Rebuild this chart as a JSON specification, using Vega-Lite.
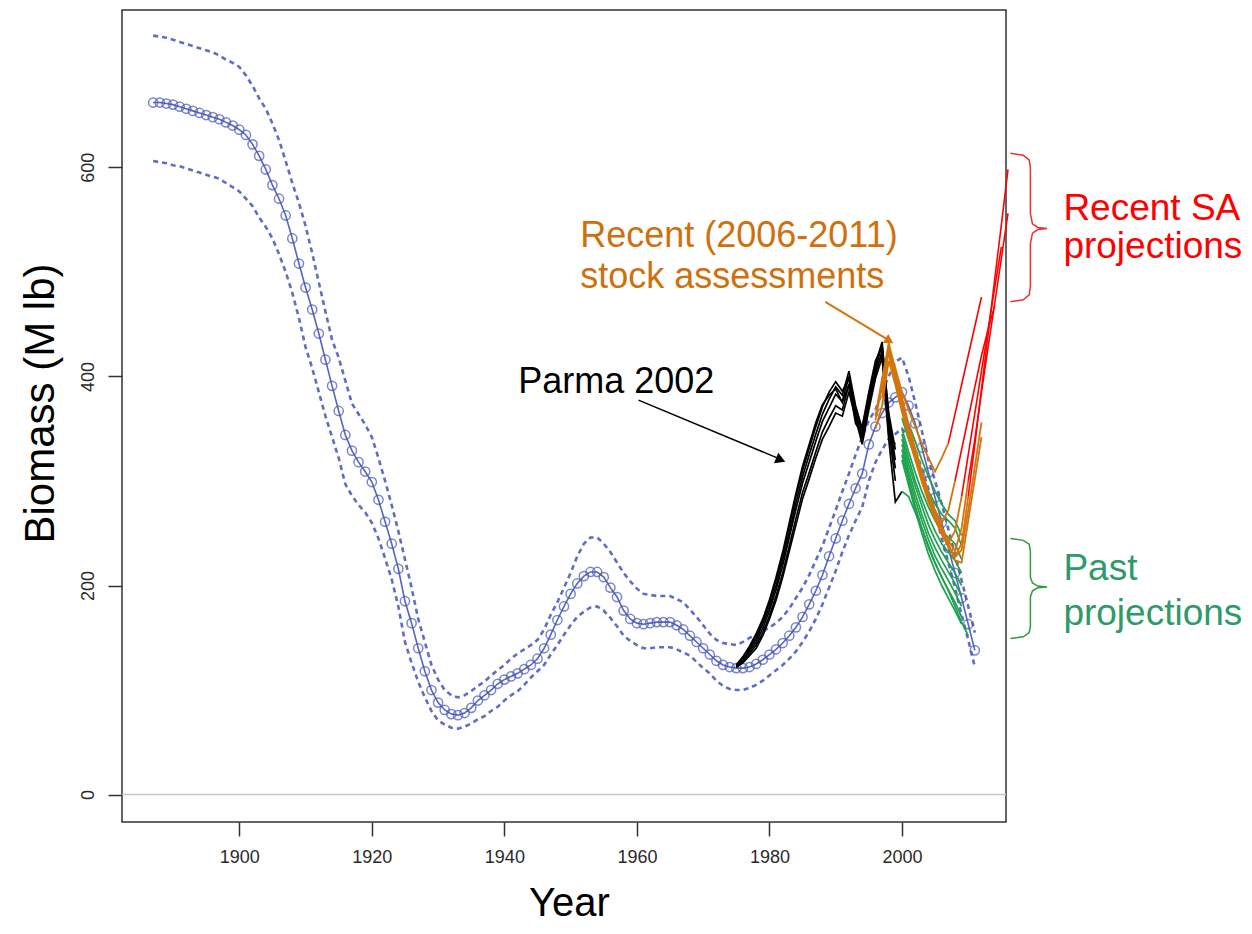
{
"$schema": "https://vega.github.io/schema/vega-lite/v6.json",
"width": 884, "height": 812,
"autosize": {"type": "none"},
"padding": {"left": 122, "top": 10, "right": 246, "bottom": 112},
"background": "white",
"config": {
 "view": {"stroke": "#333333", "strokeWidth": 1.5},
 "axis": {"grid": false, "domain": false, "tickColor": "#333333", "tickWidth": 1.5, "tickSize": 14, "labelFont": "Liberation Sans", "labelFontSize": 18, "labelColor": "#2a2a2a", "titleFont": "Liberation Sans", "titleFontWeight": "normal", "titleColor": "#000000", "labelOverlap": false},
 "axisX": {"labelPadding": 12, "titleFontSize": 40, "titlePadding": 17, "labelFlush": false},
 "axisY": {"labelAngle": -90, "labelPadding": 11, "titleFontSize": 42, "titlePadding": 17}
},
"datasets": {
 "blue": [
{"year":1887,"mid":662,"hi":726,"lo":606},{"year":1888,"mid":662,"hi":725,"lo":605},{"year":1889,"mid":661,"hi":724,"lo":604},{"year":1890,"mid":660,"hi":722,"lo":602},{"year":1891,"mid":658,"hi":720,"lo":601},{"year":1892,"mid":656,"hi":718,"lo":599},{"year":1893,"mid":654,"hi":716,"lo":597},{"year":1894,"mid":652,"hi":714,"lo":595},{"year":1895,"mid":650,"hi":712,"lo":593},{"year":1896,"mid":648,"hi":710,"lo":591},{"year":1897,"mid":646,"hi":707,"lo":589},{"year":1898,"mid":643,"hi":703,"lo":585},{"year":1899,"mid":640,"hi":700,"lo":581},{"year":1900,"mid":636,"hi":696,"lo":577},{"year":1901,"mid":631,"hi":688,"lo":570},{"year":1902,"mid":622,"hi":678,"lo":563},{"year":1903,"mid":611,"hi":666,"lo":552},{"year":1904,"mid":598,"hi":656,"lo":543},{"year":1905,"mid":583,"hi":642,"lo":532},{"year":1906,"mid":570,"hi":626,"lo":517},{"year":1907,"mid":554,"hi":606,"lo":500},{"year":1908,"mid":532,"hi":585,"lo":480},{"year":1909,"mid":508,"hi":566,"lo":456},{"year":1910,"mid":485,"hi":544,"lo":428},{"year":1911,"mid":464,"hi":518,"lo":408},{"year":1912,"mid":441,"hi":490,"lo":385},{"year":1913,"mid":416,"hi":462,"lo":362},{"year":1914,"mid":391,"hi":435,"lo":342},{"year":1915,"mid":367,"hi":418,"lo":322},{"year":1916,"mid":344,"hi":396,"lo":297},{"year":1917,"mid":329,"hi":374,"lo":286},{"year":1918,"mid":318,"hi":364,"lo":277},{"year":1919,"mid":309,"hi":354,"lo":270},{"year":1920,"mid":299,"hi":342,"lo":260},{"year":1921,"mid":282,"hi":322,"lo":245},{"year":1922,"mid":261,"hi":300,"lo":226},{"year":1923,"mid":240,"hi":277,"lo":206},{"year":1924,"mid":216,"hi":252,"lo":180},{"year":1925,"mid":185,"hi":225,"lo":146},{"year":1926,"mid":164,"hi":198,"lo":126},{"year":1927,"mid":140,"hi":168,"lo":108},{"year":1928,"mid":118,"hi":146,"lo":93},{"year":1929,"mid":100,"hi":124,"lo":80},{"year":1930,"mid":88,"hi":110,"lo":71},{"year":1931,"mid":81,"hi":100,"lo":67},{"year":1932,"mid":77,"hi":95,"lo":64},{"year":1933,"mid":76,"hi":93,"lo":63},{"year":1934,"mid":78,"hi":95,"lo":65},{"year":1935,"mid":83,"hi":99,"lo":68},{"year":1936,"mid":90,"hi":104,"lo":72},{"year":1937,"mid":95,"hi":108,"lo":75},{"year":1938,"mid":100,"hi":114,"lo":80},{"year":1939,"mid":106,"hi":119,"lo":84},{"year":1940,"mid":110,"hi":124,"lo":90},{"year":1941,"mid":113,"hi":130,"lo":95},{"year":1942,"mid":116,"hi":135,"lo":99},{"year":1943,"mid":120,"hi":139,"lo":105},{"year":1944,"mid":124,"hi":143,"lo":112},{"year":1945,"mid":130,"hi":148,"lo":118},{"year":1946,"mid":140,"hi":158,"lo":124},{"year":1947,"mid":153,"hi":172,"lo":134},{"year":1948,"mid":167,"hi":184,"lo":143},{"year":1949,"mid":180,"hi":198,"lo":153},{"year":1950,"mid":192,"hi":212,"lo":162},{"year":1951,"mid":202,"hi":228,"lo":170},{"year":1952,"mid":209,"hi":240,"lo":175},{"year":1953,"mid":213,"hi":246,"lo":179},{"year":1954,"mid":213,"hi":246,"lo":180},{"year":1955,"mid":208,"hi":240,"lo":176},{"year":1956,"mid":198,"hi":232,"lo":169},{"year":1957,"mid":189,"hi":222,"lo":161},{"year":1958,"mid":176,"hi":212,"lo":152},{"year":1959,"mid":168,"hi":204,"lo":147},{"year":1960,"mid":164,"hi":197,"lo":143},{"year":1961,"mid":163,"hi":192,"lo":140},{"year":1962,"mid":164,"hi":191,"lo":140},{"year":1963,"mid":165,"hi":190,"lo":141},{"year":1964,"mid":165,"hi":190,"lo":141},{"year":1965,"mid":165,"hi":190,"lo":141},{"year":1966,"mid":162,"hi":187,"lo":139},{"year":1967,"mid":158,"hi":184,"lo":136},{"year":1968,"mid":152,"hi":177,"lo":133},{"year":1969,"mid":146,"hi":170,"lo":127},{"year":1970,"mid":140,"hi":162,"lo":121},{"year":1971,"mid":134,"hi":154,"lo":116},{"year":1972,"mid":128,"hi":148,"lo":109},{"year":1973,"mid":124,"hi":145,"lo":104},{"year":1974,"mid":122,"hi":144,"lo":101},{"year":1975,"mid":121,"hi":143,"lo":100},{"year":1976,"mid":121,"hi":146,"lo":100},{"year":1977,"mid":122,"hi":150,"lo":102},{"year":1978,"mid":125,"hi":153,"lo":105},{"year":1979,"mid":129,"hi":156,"lo":109},{"year":1980,"mid":134,"hi":160,"lo":114},{"year":1981,"mid":139,"hi":164,"lo":119},{"year":1982,"mid":145,"hi":170,"lo":124},{"year":1983,"mid":152,"hi":178,"lo":130},{"year":1984,"mid":160,"hi":188,"lo":137},{"year":1985,"mid":170,"hi":198,"lo":146},{"year":1986,"mid":182,"hi":210,"lo":156},{"year":1987,"mid":195,"hi":224,"lo":168},{"year":1988,"mid":210,"hi":238,"lo":182},{"year":1989,"mid":228,"hi":255,"lo":198},{"year":1990,"mid":245,"hi":272,"lo":214},{"year":1991,"mid":262,"hi":290,"lo":232},{"year":1992,"mid":278,"hi":307,"lo":248},{"year":1993,"mid":293,"hi":325,"lo":262},{"year":1994,"mid":307,"hi":342,"lo":275},{"year":1995,"mid":335,"hi":358,"lo":300},{"year":1996,"mid":352,"hi":368,"lo":318},{"year":1997,"mid":365,"hi":385,"lo":330},{"year":1998,"mid":375,"hi":400,"lo":340},{"year":1999,"mid":380,"hi":414,"lo":345},{"year":2000,"mid":385,"hi":418,"lo":350},{"year":2001,"mid":372,"hi":400,"lo":342},{"year":2002,"mid":355,"hi":375,"lo":330},{"year":2003,"mid":332,"hi":348,"lo":312},{"year":2004,"mid":308,"hi":320,"lo":292},{"year":2005,"mid":284,"hi":300,"lo":270},{"year":2006,"mid":260,"hi":278,"lo":245},{"year":2007,"mid":236,"hi":254,"lo":222},{"year":2008,"mid":212,"hi":230,"lo":198},{"year":2009,"mid":188,"hi":205,"lo":172},{"year":2010,"mid":163,"hi":180,"lo":148},{"year":2011,"mid":138,"hi":155,"lo":122}
 ],
 "runs": [
{"run":"B1","grp":"parma","year":1975,"value":122},{"run":"B1","grp":"parma","year":1976,"value":126},{"run":"B1","grp":"parma","year":1977,"value":133},{"run":"B1","grp":"parma","year":1978,"value":140},{"run":"B1","grp":"parma","year":1979,"value":152},{"run":"B1","grp":"parma","year":1980,"value":168},{"run":"B1","grp":"parma","year":1981,"value":186},{"run":"B1","grp":"parma","year":1982,"value":208},{"run":"B1","grp":"parma","year":1983,"value":233},{"run":"B1","grp":"parma","year":1984,"value":258},{"run":"B1","grp":"parma","year":1985,"value":283},{"run":"B1","grp":"parma","year":1986,"value":302},{"run":"B1","grp":"parma","year":1987,"value":322},{"run":"B1","grp":"parma","year":1988,"value":340},{"run":"B1","grp":"parma","year":1989,"value":352},{"run":"B1","grp":"parma","year":1990,"value":365},{"run":"B1","grp":"parma","year":1991,"value":362},{"run":"B1","grp":"parma","year":1992,"value":385},{"run":"B1","grp":"parma","year":1993,"value":360},{"run":"B1","grp":"parma","year":1994,"value":335},{"run":"B1","grp":"parma","year":1995,"value":368},{"run":"B1","grp":"parma","year":1996,"value":398},{"run":"B1","grp":"parma","year":1997,"value":418},{"run":"B1","grp":"parma","year":1998,"value":340},{"run":"B1","grp":"parma","year":1999,"value":280},{"run":"B1","grp":"parma","year":2000,"value":290},
{"run":"B2","grp":"parma","year":1975,"value":122},{"run":"B2","grp":"parma","year":1976,"value":127},{"run":"B2","grp":"parma","year":1977,"value":135},{"run":"B2","grp":"parma","year":1978,"value":143},{"run":"B2","grp":"parma","year":1979,"value":155},{"run":"B2","grp":"parma","year":1980,"value":171},{"run":"B2","grp":"parma","year":1981,"value":190},{"run":"B2","grp":"parma","year":1982,"value":212},{"run":"B2","grp":"parma","year":1983,"value":238},{"run":"B2","grp":"parma","year":1984,"value":264},{"run":"B2","grp":"parma","year":1985,"value":289},{"run":"B2","grp":"parma","year":1986,"value":308},{"run":"B2","grp":"parma","year":1987,"value":328},{"run":"B2","grp":"parma","year":1988,"value":347},{"run":"B2","grp":"parma","year":1989,"value":360},{"run":"B2","grp":"parma","year":1990,"value":372},{"run":"B2","grp":"parma","year":1991,"value":368},{"run":"B2","grp":"parma","year":1992,"value":392},{"run":"B2","grp":"parma","year":1993,"value":364},{"run":"B2","grp":"parma","year":1994,"value":340},{"run":"B2","grp":"parma","year":1995,"value":372},{"run":"B2","grp":"parma","year":1996,"value":402},{"run":"B2","grp":"parma","year":1997,"value":424},{"run":"B2","grp":"parma","year":1998,"value":350},{"run":"B2","grp":"parma","year":1999,"value":300},
{"run":"B3","grp":"parma","year":1975,"value":122},{"run":"B3","grp":"parma","year":1976,"value":128},{"run":"B3","grp":"parma","year":1977,"value":137},{"run":"B3","grp":"parma","year":1978,"value":146},{"run":"B3","grp":"parma","year":1979,"value":159},{"run":"B3","grp":"parma","year":1980,"value":176},{"run":"B3","grp":"parma","year":1981,"value":196},{"run":"B3","grp":"parma","year":1982,"value":219},{"run":"B3","grp":"parma","year":1983,"value":246},{"run":"B3","grp":"parma","year":1984,"value":273},{"run":"B3","grp":"parma","year":1985,"value":298},{"run":"B3","grp":"parma","year":1986,"value":318},{"run":"B3","grp":"parma","year":1987,"value":338},{"run":"B3","grp":"parma","year":1988,"value":357},{"run":"B3","grp":"parma","year":1989,"value":370},{"run":"B3","grp":"parma","year":1990,"value":383},{"run":"B3","grp":"parma","year":1991,"value":376},{"run":"B3","grp":"parma","year":1992,"value":400},{"run":"B3","grp":"parma","year":1993,"value":368},{"run":"B3","grp":"parma","year":1994,"value":346},{"run":"B3","grp":"parma","year":1995,"value":378},{"run":"B3","grp":"parma","year":1996,"value":408},{"run":"B3","grp":"parma","year":1997,"value":430},{"run":"B3","grp":"parma","year":1998,"value":356},{"run":"B3","grp":"parma","year":1999,"value":312},
{"run":"B4","grp":"parma","year":1975,"value":123},{"run":"B4","grp":"parma","year":1976,"value":129},{"run":"B4","grp":"parma","year":1977,"value":139},{"run":"B4","grp":"parma","year":1978,"value":149},{"run":"B4","grp":"parma","year":1979,"value":163},{"run":"B4","grp":"parma","year":1980,"value":180},{"run":"B4","grp":"parma","year":1981,"value":200},{"run":"B4","grp":"parma","year":1982,"value":224},{"run":"B4","grp":"parma","year":1983,"value":251},{"run":"B4","grp":"parma","year":1984,"value":279},{"run":"B4","grp":"parma","year":1985,"value":304},{"run":"B4","grp":"parma","year":1986,"value":325},{"run":"B4","grp":"parma","year":1987,"value":345},{"run":"B4","grp":"parma","year":1988,"value":364},{"run":"B4","grp":"parma","year":1989,"value":378},{"run":"B4","grp":"parma","year":1990,"value":390},{"run":"B4","grp":"parma","year":1991,"value":382},{"run":"B4","grp":"parma","year":1992,"value":405},{"run":"B4","grp":"parma","year":1993,"value":372},{"run":"B4","grp":"parma","year":1994,"value":350},{"run":"B4","grp":"parma","year":1995,"value":382},{"run":"B4","grp":"parma","year":1996,"value":412},{"run":"B4","grp":"parma","year":1997,"value":433},{"run":"B4","grp":"parma","year":1998,"value":362},{"run":"B4","grp":"parma","year":1999,"value":320},
{"run":"B5","grp":"parma","year":1975,"value":124},{"run":"B5","grp":"parma","year":1976,"value":131},{"run":"B5","grp":"parma","year":1977,"value":141},{"run":"B5","grp":"parma","year":1978,"value":152},{"run":"B5","grp":"parma","year":1979,"value":166},{"run":"B5","grp":"parma","year":1980,"value":184},{"run":"B5","grp":"parma","year":1981,"value":205},{"run":"B5","grp":"parma","year":1982,"value":229},{"run":"B5","grp":"parma","year":1983,"value":257},{"run":"B5","grp":"parma","year":1984,"value":285},{"run":"B5","grp":"parma","year":1985,"value":310},{"run":"B5","grp":"parma","year":1986,"value":331},{"run":"B5","grp":"parma","year":1987,"value":352},{"run":"B5","grp":"parma","year":1988,"value":371},{"run":"B5","grp":"parma","year":1989,"value":385},{"run":"B5","grp":"parma","year":1990,"value":395},{"run":"B5","grp":"parma","year":1991,"value":386},{"run":"B5","grp":"parma","year":1992,"value":398},{"run":"B5","grp":"parma","year":1993,"value":360},{"run":"B5","grp":"parma","year":1994,"value":352},{"run":"B5","grp":"parma","year":1995,"value":385},{"run":"B5","grp":"parma","year":1996,"value":415},{"run":"B5","grp":"parma","year":1997,"value":428},{"run":"B5","grp":"parma","year":1998,"value":365},{"run":"B5","grp":"parma","year":1999,"value":330},
{"run":"B6","grp":"parma","year":1975,"value":124},{"run":"B6","grp":"parma","year":1976,"value":132},{"run":"B6","grp":"parma","year":1977,"value":142},{"run":"B6","grp":"parma","year":1978,"value":154},{"run":"B6","grp":"parma","year":1979,"value":168},{"run":"B6","grp":"parma","year":1980,"value":186},{"run":"B6","grp":"parma","year":1981,"value":208},{"run":"B6","grp":"parma","year":1982,"value":232},{"run":"B6","grp":"parma","year":1983,"value":260},{"run":"B6","grp":"parma","year":1984,"value":288},{"run":"B6","grp":"parma","year":1985,"value":314},{"run":"B6","grp":"parma","year":1986,"value":335},{"run":"B6","grp":"parma","year":1987,"value":356},{"run":"B6","grp":"parma","year":1988,"value":373},{"run":"B6","grp":"parma","year":1989,"value":382},{"run":"B6","grp":"parma","year":1990,"value":388},{"run":"B6","grp":"parma","year":1991,"value":375},{"run":"B6","grp":"parma","year":1992,"value":392},{"run":"B6","grp":"parma","year":1993,"value":355},{"run":"B6","grp":"parma","year":1994,"value":345},{"run":"B6","grp":"parma","year":1995,"value":376},{"run":"B6","grp":"parma","year":1996,"value":406},{"run":"B6","grp":"parma","year":1997,"value":422},{"run":"B6","grp":"parma","year":1998,"value":345},{"run":"B6","grp":"parma","year":1999,"value":335},
{"run":"G1","grp":"past","year":2000,"value":372},{"run":"G1","grp":"past","year":2001,"value":355},{"run":"G1","grp":"past","year":2002,"value":338},{"run":"G1","grp":"past","year":2003,"value":320},{"run":"G1","grp":"past","year":2004,"value":304},{"run":"G1","grp":"past","year":2005,"value":290},{"run":"G1","grp":"past","year":2006,"value":278},{"run":"G1","grp":"past","year":2007,"value":268},{"run":"G1","grp":"past","year":2008,"value":262},{"run":"G1","grp":"past","year":2009,"value":248},
{"run":"G2","grp":"past","year":2000,"value":360},{"run":"G2","grp":"past","year":2001,"value":340},{"run":"G2","grp":"past","year":2002,"value":322},{"run":"G2","grp":"past","year":2003,"value":305},{"run":"G2","grp":"past","year":2004,"value":290},{"run":"G2","grp":"past","year":2005,"value":278},{"run":"G2","grp":"past","year":2006,"value":268},{"run":"G2","grp":"past","year":2007,"value":262},{"run":"G2","grp":"past","year":2008,"value":255},{"run":"G2","grp":"past","year":2009,"value":238},
{"run":"G3","grp":"past","year":2000,"value":350},{"run":"G3","grp":"past","year":2001,"value":328},{"run":"G3","grp":"past","year":2002,"value":308},{"run":"G3","grp":"past","year":2003,"value":290},{"run":"G3","grp":"past","year":2004,"value":275},{"run":"G3","grp":"past","year":2005,"value":262},{"run":"G3","grp":"past","year":2006,"value":252},{"run":"G3","grp":"past","year":2007,"value":246},{"run":"G3","grp":"past","year":2008,"value":240},{"run":"G3","grp":"past","year":2009,"value":225},
{"run":"G4","grp":"past","year":2000,"value":345},{"run":"G4","grp":"past","year":2001,"value":322},{"run":"G4","grp":"past","year":2002,"value":300},{"run":"G4","grp":"past","year":2003,"value":282},{"run":"G4","grp":"past","year":2004,"value":266},{"run":"G4","grp":"past","year":2005,"value":252},{"run":"G4","grp":"past","year":2006,"value":240},{"run":"G4","grp":"past","year":2007,"value":232},{"run":"G4","grp":"past","year":2008,"value":224},{"run":"G4","grp":"past","year":2009,"value":212},
{"run":"G5","grp":"past","year":2000,"value":340},{"run":"G5","grp":"past","year":2001,"value":316},{"run":"G5","grp":"past","year":2002,"value":295},{"run":"G5","grp":"past","year":2003,"value":276},{"run":"G5","grp":"past","year":2004,"value":258},{"run":"G5","grp":"past","year":2005,"value":244},{"run":"G5","grp":"past","year":2006,"value":232},{"run":"G5","grp":"past","year":2007,"value":222},{"run":"G5","grp":"past","year":2008,"value":212},{"run":"G5","grp":"past","year":2009,"value":200},
{"run":"G6","grp":"past","year":2000,"value":335},{"run":"G6","grp":"past","year":2001,"value":310},{"run":"G6","grp":"past","year":2002,"value":288},{"run":"G6","grp":"past","year":2003,"value":268},{"run":"G6","grp":"past","year":2004,"value":250},{"run":"G6","grp":"past","year":2005,"value":236},{"run":"G6","grp":"past","year":2006,"value":224},{"run":"G6","grp":"past","year":2007,"value":213},{"run":"G6","grp":"past","year":2008,"value":202},{"run":"G6","grp":"past","year":2009,"value":190},
{"run":"G7","grp":"past","year":2000,"value":330},{"run":"G7","grp":"past","year":2001,"value":305},{"run":"G7","grp":"past","year":2002,"value":282},{"run":"G7","grp":"past","year":2003,"value":262},{"run":"G7","grp":"past","year":2004,"value":244},{"run":"G7","grp":"past","year":2005,"value":228},{"run":"G7","grp":"past","year":2006,"value":216},{"run":"G7","grp":"past","year":2007,"value":205},{"run":"G7","grp":"past","year":2008,"value":193},{"run":"G7","grp":"past","year":2009,"value":180},
{"run":"G8","grp":"past","year":2000,"value":325},{"run":"G8","grp":"past","year":2001,"value":300},{"run":"G8","grp":"past","year":2002,"value":276},{"run":"G8","grp":"past","year":2003,"value":255},{"run":"G8","grp":"past","year":2004,"value":236},{"run":"G8","grp":"past","year":2005,"value":221},{"run":"G8","grp":"past","year":2006,"value":208},{"run":"G8","grp":"past","year":2007,"value":196},{"run":"G8","grp":"past","year":2008,"value":184},{"run":"G8","grp":"past","year":2009,"value":170},
{"run":"G9","grp":"past","year":2000,"value":320},{"run":"G9","grp":"past","year":2001,"value":296},{"run":"G9","grp":"past","year":2002,"value":272},{"run":"G9","grp":"past","year":2003,"value":250},{"run":"G9","grp":"past","year":2004,"value":230},{"run":"G9","grp":"past","year":2005,"value":214},{"run":"G9","grp":"past","year":2006,"value":200},{"run":"G9","grp":"past","year":2007,"value":188},{"run":"G9","grp":"past","year":2008,"value":176},{"run":"G9","grp":"past","year":2009,"value":163},
{"run":"G10","grp":"past","year":2000,"value":290},{"run":"G10","grp":"past","year":2001,"value":285},{"run":"G10","grp":"past","year":2002,"value":270},{"run":"G10","grp":"past","year":2003,"value":255},{"run":"G10","grp":"past","year":2004,"value":238},{"run":"G10","grp":"past","year":2005,"value":222},{"run":"G10","grp":"past","year":2006,"value":208},{"run":"G10","grp":"past","year":2007,"value":195},{"run":"G10","grp":"past","year":2008,"value":180},{"run":"G10","grp":"past","year":2009,"value":165},{"run":"G10","grp":"past","year":2010,"value":152},
{"run":"O1","grp":"recent","year":1996,"value":358},{"run":"O1","grp":"recent","year":1997,"value":392},{"run":"O1","grp":"recent","year":1998,"value":430},{"run":"O1","grp":"recent","year":1999,"value":408},{"run":"O1","grp":"recent","year":2000,"value":385},{"run":"O1","grp":"recent","year":2001,"value":368},{"run":"O1","grp":"recent","year":2002,"value":352},{"run":"O1","grp":"recent","year":2003,"value":336},{"run":"O1","grp":"recent","year":2004,"value":322},{"run":"O1","grp":"recent","year":2005,"value":309},{"run":"O1","grp":"recent","year":2006,"value":322},{"run":"O1","grp":"recent","year":2007,"value":336},
{"run":"O2","grp":"recent","year":1996,"value":362},{"run":"O2","grp":"recent","year":1997,"value":398},{"run":"O2","grp":"recent","year":1998,"value":428},{"run":"O2","grp":"recent","year":1999,"value":402},{"run":"O2","grp":"recent","year":2000,"value":376},{"run":"O2","grp":"recent","year":2001,"value":352},{"run":"O2","grp":"recent","year":2002,"value":330},{"run":"O2","grp":"recent","year":2003,"value":308},{"run":"O2","grp":"recent","year":2004,"value":288},{"run":"O2","grp":"recent","year":2005,"value":272},{"run":"O2","grp":"recent","year":2006,"value":260},{"run":"O2","grp":"recent","year":2007,"value":272},{"run":"O2","grp":"recent","year":2008,"value":300},
{"run":"O3","grp":"recent","year":1997,"value":380},{"run":"O3","grp":"recent","year":1998,"value":425},{"run":"O3","grp":"recent","year":1999,"value":396},{"run":"O3","grp":"recent","year":2000,"value":372},{"run":"O3","grp":"recent","year":2001,"value":348},{"run":"O3","grp":"recent","year":2002,"value":325},{"run":"O3","grp":"recent","year":2003,"value":304},{"run":"O3","grp":"recent","year":2004,"value":284},{"run":"O3","grp":"recent","year":2005,"value":267},{"run":"O3","grp":"recent","year":2006,"value":253},{"run":"O3","grp":"recent","year":2007,"value":241},{"run":"O3","grp":"recent","year":2008,"value":252},{"run":"O3","grp":"recent","year":2009,"value":285},
{"run":"O4","grp":"recent","year":1997,"value":395},{"run":"O4","grp":"recent","year":1998,"value":432},{"run":"O4","grp":"recent","year":1999,"value":404},{"run":"O4","grp":"recent","year":2000,"value":380},{"run":"O4","grp":"recent","year":2001,"value":354},{"run":"O4","grp":"recent","year":2002,"value":331},{"run":"O4","grp":"recent","year":2003,"value":309},{"run":"O4","grp":"recent","year":2004,"value":289},{"run":"O4","grp":"recent","year":2005,"value":271},{"run":"O4","grp":"recent","year":2006,"value":256},{"run":"O4","grp":"recent","year":2007,"value":243},{"run":"O4","grp":"recent","year":2008,"value":233},{"run":"O4","grp":"recent","year":2009,"value":255},{"run":"O4","grp":"recent","year":2010,"value":300},
{"run":"O5","grp":"recent","year":1998,"value":420},{"run":"O5","grp":"recent","year":1999,"value":398},{"run":"O5","grp":"recent","year":2000,"value":371},{"run":"O5","grp":"recent","year":2001,"value":346},{"run":"O5","grp":"recent","year":2002,"value":323},{"run":"O5","grp":"recent","year":2003,"value":301},{"run":"O5","grp":"recent","year":2004,"value":282},{"run":"O5","grp":"recent","year":2005,"value":265},{"run":"O5","grp":"recent","year":2006,"value":251},{"run":"O5","grp":"recent","year":2007,"value":238},{"run":"O5","grp":"recent","year":2008,"value":228},{"run":"O5","grp":"recent","year":2009,"value":240},{"run":"O5","grp":"recent","year":2010,"value":285},
{"run":"O6","grp":"recent","year":1996,"value":350},{"run":"O6","grp":"recent","year":1997,"value":372},{"run":"O6","grp":"recent","year":1998,"value":415},{"run":"O6","grp":"recent","year":1999,"value":392},{"run":"O6","grp":"recent","year":2000,"value":366},{"run":"O6","grp":"recent","year":2001,"value":342},{"run":"O6","grp":"recent","year":2002,"value":320},{"run":"O6","grp":"recent","year":2003,"value":299},{"run":"O6","grp":"recent","year":2004,"value":280},{"run":"O6","grp":"recent","year":2005,"value":263},{"run":"O6","grp":"recent","year":2006,"value":249},{"run":"O6","grp":"recent","year":2007,"value":237},{"run":"O6","grp":"recent","year":2008,"value":227},{"run":"O6","grp":"recent","year":2009,"value":234},{"run":"O6","grp":"recent","year":2010,"value":272},{"run":"O6","grp":"recent","year":2011,"value":314},{"run":"O6","grp":"recent","year":2012,"value":356},
{"run":"O7","grp":"recent","year":1997,"value":385},{"run":"O7","grp":"recent","year":1998,"value":426},{"run":"O7","grp":"recent","year":1999,"value":400},{"run":"O7","grp":"recent","year":2000,"value":374},{"run":"O7","grp":"recent","year":2001,"value":349},{"run":"O7","grp":"recent","year":2002,"value":327},{"run":"O7","grp":"recent","year":2003,"value":305},{"run":"O7","grp":"recent","year":2004,"value":285},{"run":"O7","grp":"recent","year":2005,"value":268},{"run":"O7","grp":"recent","year":2006,"value":254},{"run":"O7","grp":"recent","year":2007,"value":240},{"run":"O7","grp":"recent","year":2008,"value":224},{"run":"O7","grp":"recent","year":2009,"value":222},{"run":"O7","grp":"recent","year":2010,"value":262},{"run":"O7","grp":"recent","year":2011,"value":302},{"run":"O7","grp":"recent","year":2012,"value":342},
{"run":"R1","grp":"saproj","year":2007,"value":336},{"run":"R1","grp":"saproj","year":2008,"value":364},{"run":"R1","grp":"saproj","year":2009,"value":392},{"run":"R1","grp":"saproj","year":2010,"value":420},{"run":"R1","grp":"saproj","year":2011,"value":448},{"run":"R1","grp":"saproj","year":2012,"value":476},
{"run":"R2","grp":"saproj","year":2008,"value":300},{"run":"R2","grp":"saproj","year":2009,"value":330},{"run":"R2","grp":"saproj","year":2010,"value":360},{"run":"R2","grp":"saproj","year":2011,"value":390},{"run":"R2","grp":"saproj","year":2012,"value":420},{"run":"R2","grp":"saproj","year":2013,"value":445},{"run":"R2","grp":"saproj","year":2014,"value":468},
{"run":"R3","grp":"saproj","year":2009,"value":285},{"run":"R3","grp":"saproj","year":2010,"value":325},{"run":"R3","grp":"saproj","year":2011,"value":365},{"run":"R3","grp":"saproj","year":2012,"value":405},{"run":"R3","grp":"saproj","year":2013,"value":445},{"run":"R3","grp":"saproj","year":2014,"value":485},{"run":"R3","grp":"saproj","year":2015,"value":524},
{"run":"R4","grp":"saproj","year":2010,"value":300},{"run":"R4","grp":"saproj","year":2011,"value":340},{"run":"R4","grp":"saproj","year":2012,"value":385},{"run":"R4","grp":"saproj","year":2013,"value":428},{"run":"R4","grp":"saproj","year":2014,"value":470},{"run":"R4","grp":"saproj","year":2015,"value":513},{"run":"R4","grp":"saproj","year":2016,"value":556},
{"run":"R5","grp":"saproj","year":2010,"value":285},{"run":"R5","grp":"saproj","year":2011,"value":335},{"run":"R5","grp":"saproj","year":2012,"value":388},{"run":"R5","grp":"saproj","year":2013,"value":440},{"run":"R5","grp":"saproj","year":2014,"value":493},{"run":"R5","grp":"saproj","year":2015,"value":545},{"run":"R5","grp":"saproj","year":2016,"value":598}
 ],
 "braces": [
{"brace":"sa","i":1,"year":2016.36,"value":613.4},{"brace":"sa","i":2,"year":2018.3,"value":611.5},{"brace":"sa","i":3,"year":2019.2,"value":607},{"brace":"sa","i":4,"year":2019.38,"value":600},{"brace":"sa","i":5,"year":2019.38,"value":556},{"brace":"sa","i":6,"year":2019.7,"value":546},{"brace":"sa","i":7,"year":2020.5,"value":542.5},{"brace":"sa","i":8,"year":2021.9,"value":541.6},{"brace":"sa","i":9,"year":2020.5,"value":540.5},{"brace":"sa","i":10,"year":2019.7,"value":537},{"brace":"sa","i":11,"year":2019.38,"value":527},{"brace":"sa","i":12,"year":2019.38,"value":486},{"brace":"sa","i":13,"year":2019.2,"value":478},{"brace":"sa","i":14,"year":2018.3,"value":473.3},{"brace":"sa","i":15,"year":2016.36,"value":471.4},
{"brace":"past","i":1,"year":2016.36,"value":245},{"brace":"past","i":2,"year":2018.3,"value":243.2},{"brace":"past","i":3,"year":2019.2,"value":239.5},{"brace":"past","i":4,"year":2019.38,"value":233},{"brace":"past","i":5,"year":2019.38,"value":208},{"brace":"past","i":6,"year":2019.7,"value":202.5},{"brace":"past","i":7,"year":2020.5,"value":199.5},{"brace":"past","i":8,"year":2021.9,"value":198.7},{"brace":"past","i":9,"year":2020.5,"value":197.8},{"brace":"past","i":10,"year":2019.7,"value":195},{"brace":"past","i":11,"year":2019.38,"value":189},{"brace":"past","i":12,"year":2019.38,"value":160.5},{"brace":"past","i":13,"year":2019.2,"value":155},{"brace":"past","i":14,"year":2018.3,"value":151},{"brace":"past","i":15,"year":2016.36,"value":149.3}
 ]
},
"layer": [
 {"data": {"values": [{}]},
  "mark": {"type": "rule", "color": "#c8c8c8", "strokeWidth": 1.5},
  "encoding": {"y": {"datum": 0, "type": "quantitative"}}},
 {"data": {"name": "blue"},
  "mark": {"type": "line", "color": "#4454B8", "strokeWidth": 2.6, "strokeDash": [5, 4], "opacity": 0.85},
  "encoding": {
   "x": {"field": "year", "type": "quantitative", "title": "Year",
    "scale": {"domain": [1882.3, 2015.7], "nice": false, "zero": false},
    "axis": {"values": [1900, 1920, 1940, 1960, 1980, 2000], "format": "d", "titleX": 447}},
   "y": {"field": "hi", "type": "quantitative", "title": "Biomass (M lb)",
    "scale": {"domain": [-26.2, 750.5], "nice": false, "zero": false},
    "axis": {"values": [0, 200, 400, 600], "format": "d", "titleY": 393}}}},
 {"data": {"name": "blue"},
  "mark": {"type": "line", "color": "#4454B8", "strokeWidth": 2.6, "strokeDash": [5, 4], "opacity": 0.85},
  "encoding": {"x": {"field": "year", "type": "quantitative", "title": "Year"}, "y": {"field": "lo", "type": "quantitative", "title": "Biomass (M lb)"}}},
 {"data": {"name": "blue"},
  "mark": {"type": "line", "color": "#4454B8", "strokeWidth": 1.6, "opacity": 0.9},
  "encoding": {"x": {"field": "year", "type": "quantitative", "title": "Year"}, "y": {"field": "mid", "type": "quantitative", "title": "Biomass (M lb)"}}},
 {"data": {"name": "blue"},
  "mark": {"type": "point", "shape": "circle", "filled": false, "color": "#4454B8", "size": 85, "strokeWidth": 1.5, "opacity": 0.7},
  "encoding": {"x": {"field": "year", "type": "quantitative", "title": "Year"}, "y": {"field": "mid", "type": "quantitative", "title": "Biomass (M lb)"}}},
 {"data": {"name": "runs"}, "transform": [{"filter": "datum.grp === 'parma'"}],
  "mark": {"type": "line", "color": "#000000", "strokeWidth": 1.7},
  "encoding": {"x": {"field": "year", "type": "quantitative", "title": "Year"}, "y": {"field": "value", "type": "quantitative", "title": "Biomass (M lb)"}, "detail": {"field": "run"}, "order": {"field": "year"}}},
 {"data": {"name": "runs"}, "transform": [{"filter": "datum.grp === 'past'"}],
  "mark": {"type": "line", "color": "#1DA24C", "strokeWidth": 1.7},
  "encoding": {"x": {"field": "year", "type": "quantitative", "title": "Year"}, "y": {"field": "value", "type": "quantitative", "title": "Biomass (M lb)"}, "detail": {"field": "run"}, "order": {"field": "year"}}},
 {"data": {"name": "runs"}, "transform": [{"filter": "datum.grp === 'recent'"}],
  "mark": {"type": "line", "color": "#D4740C", "strokeWidth": 1.8},
  "encoding": {"x": {"field": "year", "type": "quantitative", "title": "Year"}, "y": {"field": "value", "type": "quantitative", "title": "Biomass (M lb)"}, "detail": {"field": "run"}, "order": {"field": "year"}}},
 {"data": {"name": "runs"}, "transform": [{"filter": "datum.grp === 'saproj'"}],
  "mark": {"type": "line", "color": "#FF0000", "strokeWidth": 1.6},
  "encoding": {"x": {"field": "year", "type": "quantitative", "title": "Year"}, "y": {"field": "value", "type": "quantitative", "title": "Biomass (M lb)"}, "detail": {"field": "run"}, "order": {"field": "year"}}},
 {"data": {"name": "braces"},
  "mark": {"type": "line", "strokeWidth": 1.5, "clip": false},
  "encoding": {"x": {"field": "year", "type": "quantitative", "title": "Year"}, "y": {"field": "value", "type": "quantitative", "title": "Biomass (M lb)"}, "detail": {"field": "brace"}, "order": {"field": "i"},
   "color": {"field": "brace", "type": "nominal", "scale": {"domain": ["sa", "past"], "range": ["#F03030", "#2E9A3E"]}, "legend": null}}},
 {"data": {"values": [{}]},
  "mark": {"type": "rule", "color": "#000000", "strokeWidth": 1.5},
  "encoding": {"x": {"datum": 1960.24, "type": "quantitative"}, "y": {"datum": 377.3, "type": "quantitative"}, "x2": {"datum": 1981.9}, "y2": {"datum": 320.2}}},
 {"data": {"values": [{}]},
  "mark": {"type": "point", "shape": "triangle-right", "filled": true, "color": "#000000", "size": 130, "angle": 22.8, "opacity": 1},
  "encoding": {"x": {"datum": 1981.7, "type": "quantitative"}, "y": {"datum": 320.2, "type": "quantitative"}}},
 {"data": {"values": [{}]},
  "mark": {"type": "rule", "color": "#D4740C", "strokeWidth": 2},
  "encoding": {"x": {"datum": 1988.43, "type": "quantitative"}, "y": {"datum": 471.4, "type": "quantitative"}, "x2": {"datum": 1998.3}, "y2": {"datum": 433.5}}},
 {"data": {"values": [{}]},
  "mark": {"type": "point", "shape": "triangle-right", "filled": true, "color": "#D4740C", "size": 110, "angle": 31.3, "opacity": 1},
  "encoding": {"x": {"datum": 1998.1, "type": "quantitative"}, "y": {"datum": 434, "type": "quantitative"}}},
 {"data": {"values": [{}]},
  "mark": {"type": "text", "text": ["Recent (2006-2011)", "stock assessments"], "lineHeight": 41, "font": "Liberation Sans", "fontSize": 36, "color": "#D0700C", "align": "left", "baseline": "alphabetic"},
  "encoding": {"x": {"datum": 1951.44, "type": "quantitative"}, "y": {"datum": 524.0, "type": "quantitative"}}},
 {"data": {"values": [{}]},
  "mark": {"type": "text", "text": "Parma 2002", "font": "Liberation Sans", "fontSize": 36, "color": "#000000", "align": "left", "baseline": "alphabetic"},
  "encoding": {"x": {"datum": 1942.08, "type": "quantitative"}, "y": {"datum": 383.7, "type": "quantitative"}}},
 {"data": {"values": [{}]},
  "mark": {"type": "text", "text": ["Recent SA", "projections"], "lineHeight": 38, "font": "Liberation Sans", "fontSize": 37, "color": "#FF0000", "align": "left", "baseline": "alphabetic"},
  "encoding": {"x": {"datum": 2024.36, "type": "quantitative"}, "y": {"datum": 549.6, "type": "quantitative"}}},
 {"data": {"values": [{}]},
  "mark": {"type": "text", "text": ["Past", "projections"], "lineHeight": 45, "font": "Liberation Sans", "fontSize": 37, "color": "#2E9A6A", "align": "left", "baseline": "alphabetic"},
  "encoding": {"x": {"datum": 2024.36, "type": "quantitative"}, "y": {"datum": 205.1, "type": "quantitative"}}}
]
}
